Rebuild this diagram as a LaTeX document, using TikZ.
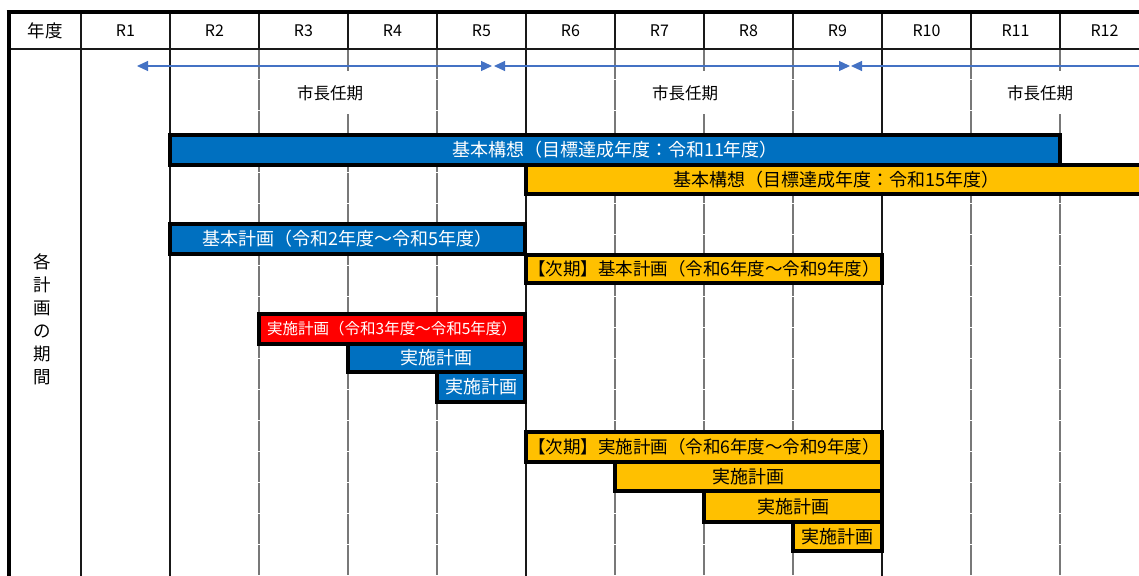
\documentclass[tikz,border=0pt]{standalone}
\usepackage{fontspec}
\setmainfont{Noto Sans CJK JP}
\usetikzlibrary{arrows.meta}
\definecolor{barblue}{RGB}{0,112,192}
\definecolor{barorange}{RGB}{255,192,0}
\definecolor{barred}{RGB}{255,0,0}
\definecolor{arrowblue}{RGB}{68,114,196}
\definecolor{gridgray}{RGB}{120,120,120}
\begin{document}
\begin{tikzpicture}[x=1pt,y=-1pt,
  bar/.style={draw=black, line width=3.5pt, inner sep=0pt, outer sep=0pt, font=\fontsize{18}{18}\selectfont},
  bluebar/.style={bar, fill=barblue, text=white},
  orangebar/.style={bar, fill=barorange, text=black},
  redbar/.style={bar, fill=barred, text=white, font=\fontsize{15.5}{16}\selectfont},
  solidline/.style={line width=1.4pt, draw=black!90},
  grayline/.style={line width=2.6pt, draw=gridgray, dash pattern=on 30pt off 1pt},
  hdr/.style={font=\fontsize{16}{16}\selectfont, inner sep=0pt},
  term/.style={fill=white, inner sep=0pt, minimum width=78pt, minimum height=43pt, font=\fontsize{16.5}{17}\selectfont},
  termspan/.style={draw=arrowblue, line width=1.2pt}
]
\useasboundingbox (0,0) rectangle (1139,575);
\clip (0,0) rectangle (1139,575);
\fill[white] (0,0) rectangle (1139,575);

% grid
\foreach \x in {259,348,437,615,704,793,971,1060} {
  \draw[grayline] (\x,49) -- (\x,576);
  \draw[solidline] (\x,12) -- (\x,49);
}
\foreach \x in {81,170,526,882} {
  \draw[solidline] (\x,12) -- (\x,576);
}
\draw[solidline] (8.5,49) -- (1140,49);
\draw[line width=4pt] (6.5,12.5) -- (1140,12.5);
\draw[line width=4pt] (8.5,10.5) -- (8.5,576);

% header
\node[hdr, font=\fontsize{17.5}{18}\selectfont] (h0) at (45,31) {年度};
\foreach \i/\x in {1/125.5,2/214.5,3/303.5,4/392.5,5/481.5,6/570.5,7/659.5,8/748.5,9/837.5,10/926.5,11/1015.5,12/1104.5} {
  \node[hdr] (r\i) at (\x,31) {R\i};
}

% left label
\node[font=\fontsize{17.5}{23}\selectfont, align=center, inner sep=0pt] (lab) at (42,319.5) {各\\計\\画\\の\\期\\間};

% mayor terms
\coordinate (a1) at (137,66);
\coordinate (a2) at (492,66);
\coordinate (a3) at (494,66);
\coordinate (a4) at (850,66);
\coordinate (a5) at (851,66);
\coordinate (a6) at (1170,66);
\draw[termspan, {Triangle[length=11pt,width=10pt]}-{Triangle[length=11pt,width=10pt]}, arrowblue] (a1) -- (a2);
\draw[termspan, {Triangle[length=11pt,width=10pt]}-{Triangle[length=11pt,width=10pt]}, arrowblue] (a3) -- (a4);
\draw[termspan, {Triangle[length=11pt,width=10pt]}-, arrowblue] (a5) -- (a6);
\node[term] (t1) at (330,93) {市長任期};
\node[term] (t2) at (685,93) {市長任期};
\node[term] (t3) at (1040,93) {市長任期};

% bars
\node[bluebar, minimum width=890pt, minimum height=30pt] (b1) at (615,150) {基本構想（目標達成年度：令和11年度）};
\node[orangebar, minimum width=620pt, minimum height=29pt] (b2) at (836,179.5) {基本構想（目標達成年度：令和15年度）};
\node[bluebar, minimum width=355pt, minimum height=30pt] (b3) at (347.5,239) {基本計画（令和2年度～令和5年度）};
\node[orangebar, minimum width=356pt, minimum height=28pt, font=\fontsize{17.5}{18}\selectfont] (b4) at (704,269) {【次期】基本計画（令和6年度～令和9年度）};
\node[redbar, minimum width=266pt, minimum height=30pt] (b5) at (392,329) {実施計画（令和3年度～令和5年度）};
\node[bluebar, minimum width=177pt, minimum height=28pt] (b6) at (436.5,358) {実施計画};
\node[bluebar, minimum width=88pt, minimum height=30pt] (b7) at (481,387) {実施計画};
\node[orangebar, minimum width=356pt, minimum height=30pt, font=\fontsize{17.5}{18}\selectfont] (b8) at (704,447) {【次期】実施計画（令和6年度～令和9年度）};
\node[orangebar, minimum width=267pt, minimum height=29pt] (b9) at (748.5,476.5) {実施計画};
\node[orangebar, minimum width=178pt, minimum height=31pt] (b10) at (793,506.5) {実施計画};
\node[orangebar, minimum width=89pt, minimum height=29pt] (b11) at (837.5,536.5) {実施計画};
\end{tikzpicture}
\end{document}
